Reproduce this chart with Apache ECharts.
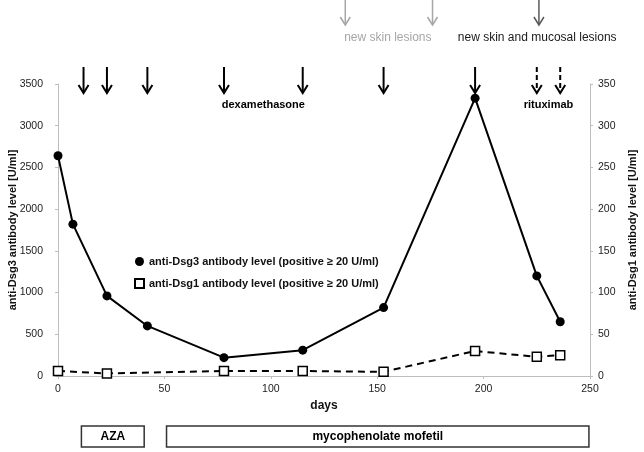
<!DOCTYPE html>
<html>
<head>
<meta charset="utf-8">
<script src="https://cdn.jsdelivr.net/npm/echarts@6/dist/echarts.min.js"></script>
<style>
  html, body { margin: 0; padding: 0; background: #fff; }
  #chart { width: 644px; height: 452px; }
</style>
</head>
<body>
<div id="chart"></div>
<script>
// antibody levels over time (days, value)
const dsg3Days = [0, 7, 23, 42, 78, 115, 153, 196, 225, 236];
const dsg3Values = [2640, 1820, 960, 600, 220, 310, 820, 3330, 1200, 650];
const dsg1Days = [0, 23, 78, 115, 153, 196, 225, 236];
const dsg1Values = [6, 3, 6, 6, 5, 30, 23, 25];

// events shown as arrows (days)
const dexaDays = [12, 23, 42, 78, 115, 153, 196];
const rituxDays = [225, 236];
const skinDays = [135, 176];
const mucosalDays = [226];

// annotation texts: [day, text]
const lowerNotes = [[96.5, 'dexamethasone'], [230.5, 'rituximab']];
const skinNotes = [[155, 'new skin lesions']];
const mucosalNotes = [[225.2, 'new skin and mucosal lesions']];

// therapy periods: [start day, end day, name]
const therapies = [[11, 40.5, 'AZA'], [51, 249.5, 'mycophenolate mofetil']];

const dsg3Name = 'anti-Dsg3 antibody level (positive \u2265 20 U/ml)';
const dsg1Name = 'anti-Dsg1 antibody level (positive \u2265 20 U/ml)';

const FONT = "'Liberation Sans', Arial, sans-serif";

let chart = echarts.init(document.getElementById('chart'));

function arrowSeries(days, opts) {
  return {
    type: 'custom',
    xAxisIndex: 0,
    yAxisIndex: 0,
    silent: true,
    clip: false,
    data: days.map(d => [d]),
    renderItem: function (params, api) {
      let p = api.coord([api.value(0), 3500]);
      let x = p[0];
      let y0 = p[1] + opts.top;
      let y1 = p[1] + opts.tip;
      return {
        type: 'group',
        children: [
          {
            type: 'line',
            shape: { x1: x, y1: y0, x2: x, y2: y1 - 1 },
            style: { stroke: opts.color, lineWidth: opts.width, lineDash: opts.dash || null }
          },
          {
            type: 'polyline',
            shape: { points: [[x - 5, y1 - 8], [x, y1], [x + 5, y1 - 8]] },
            style: { stroke: opts.color, lineWidth: opts.width, fill: null }
          }
        ]
      };
    }
  };
}

function noteSeries(notes, offset, color, font) {
  return {
    type: 'custom',
    xAxisIndex: 0,
    yAxisIndex: 0,
    silent: true,
    clip: false,
    data: notes,
    renderItem: function (params, api) {
      let p = api.coord([api.value(0), 3500]);
      return {
        type: 'text',
        style: {
          text: notes[params.dataIndex][1],
          x: p[0],
          y: p[1] + offset,
          align: 'center',
          verticalAlign: 'middle',
          fill: color,
          font: font + ' ' + FONT
        }
      };
    }
  };
}

const plainNum = v => String(v);

let option = {
  animation: false,
  textStyle: { fontFamily: FONT },
  grid: [
    { left: 58, right: 54, top: 84, bottom: 76, outerBoundsMode: 'none', containLabel: false },
    { left: 58, right: 54, top: 426, height: 21, outerBoundsMode: 'none', containLabel: false }
  ],
  legend: {
    orient: 'vertical',
    left: 129,
    top: 251,
    itemWidth: 9,
    itemHeight: 9,
    itemGap: 11,
    textStyle: { fontSize: 11, fontWeight: 'bold', color: '#111', fontFamily: FONT },
    data: [
      { name: dsg3Name, icon: 'circle' },
      { name: dsg1Name, icon: 'rect' }
    ]
  },
  xAxis: [
    {
      type: 'value',
      gridIndex: 0,
      min: 0,
      max: 250,
      interval: 50,
      name: 'days',
      nameLocation: 'middle',
      nameGap: 20,
      nameTextStyle: { fontSize: 12, fontWeight: 'bold', color: '#111' },
      axisLine: { lineStyle: { color: '#bdbdbd', width: 1 } },
      axisTick: { show: true, length: 3, lineStyle: { color: '#bdbdbd' } },
      axisLabel: { fontSize: 10.5, color: '#222', margin: 8, formatter: plainNum },
      splitLine: { show: false }
    },
    { type: 'value', gridIndex: 1, min: 0, max: 250, show: false }
  ],
  yAxis: [
    {
      type: 'value',
      gridIndex: 0,
      min: 0,
      max: 3500,
      interval: 500,
      name: 'anti-Dsg3 antibody level [U/ml]',
      nameLocation: 'middle',
      nameRotate: 90,
      nameGap: 40,
      nameMoveOverlap: false,
      nameTextStyle: { fontSize: 11, fontWeight: 'bold', color: '#111' },
      axisLine: { show: true, lineStyle: { color: '#bdbdbd', width: 1 } },
      axisTick: { show: true, length: 3, lineStyle: { color: '#bdbdbd' } },
      axisLabel: { fontSize: 10.5, color: '#222', margin: 15, formatter: plainNum },
      splitLine: { show: false }
    },
    {
      type: 'value',
      gridIndex: 0,
      position: 'right',
      min: 0,
      max: 350,
      interval: 50,
      name: 'anti-Dsg1 antibody level [U/ml]',
      nameLocation: 'middle',
      nameRotate: 90,
      nameGap: 37,
      nameMoveOverlap: false,
      nameTextStyle: { fontSize: 11, fontWeight: 'bold', color: '#111' },
      axisLine: { show: true, lineStyle: { color: '#bdbdbd', width: 1 } },
      axisTick: { show: true, length: 3, lineStyle: { color: '#bdbdbd' } },
      axisLabel: { fontSize: 10.5, color: '#222', margin: 8, formatter: plainNum },
      splitLine: { show: false }
    },
    { type: 'value', gridIndex: 1, min: 0, max: 1, show: false }
  ],
  series: [
    {
      name: dsg3Name,
      type: 'line',
      xAxisIndex: 0,
      yAxisIndex: 0,
      data: dsg3Days.map((d, i) => [d, dsg3Values[i]]),
      symbol: 'circle',
      symbolSize: 9,
      lineStyle: { color: '#000', width: 2 },
      itemStyle: { color: '#000' },
      z: 4
    },
    {
      name: dsg1Name,
      type: 'line',
      xAxisIndex: 0,
      yAxisIndex: 1,
      data: dsg1Days.map((d, i) => [d, dsg1Values[i]]),
      symbol: 'rect',
      symbolSize: 9,
      showAllSymbol: true,
      lineStyle: { color: '#000', width: 2, type: [7, 5] },
      itemStyle: { color: '#fff', borderColor: '#000', borderWidth: 1.5 },
      z: 4
    },
    arrowSeries(dexaDays, { top: -17, tip: 9, color: '#000', width: 2 }),
    arrowSeries(rituxDays, { top: -17, tip: 9, color: '#000', width: 2, dash: [5, 3] }),
    arrowSeries(skinDays, { top: -84, tip: -59, color: '#a6a6a6', width: 1.5 }),
    arrowSeries(mucosalDays, { top: -84, tip: -59, color: '#595959', width: 1.5 }),
    noteSeries(lowerNotes, 21, '#000', 'bold 11px'),
    noteSeries(skinNotes, -46, '#a6a6a6', '12px'),
    noteSeries(mucosalNotes, -46, '#1a1a1a', '12px'),
    {
      type: 'custom',
      xAxisIndex: 1,
      yAxisIndex: 2,
      silent: true,
      data: therapies,
      renderItem: function (params, api) {
        let a = api.coord([api.value(0), 1]);
        let b = api.coord([api.value(1), 0]);
        return {
          type: 'group',
          children: [
            {
              type: 'rect',
              shape: { x: a[0], y: a[1], width: b[0] - a[0], height: b[1] - a[1] },
              style: { fill: '#fff', stroke: '#333', lineWidth: 1.5 }
            },
            {
              type: 'text',
              style: {
                text: therapies[params.dataIndex][2],
                x: (a[0] + b[0]) / 2,
                y: (a[1] + b[1]) / 2,
                align: 'center',
                verticalAlign: 'middle',
                fill: '#000',
                font: 'bold 12px ' + FONT
              }
            }
          ]
        };
      }
    }
  ]
};

chart.setOption(option);
</script>
</body>
</html>
